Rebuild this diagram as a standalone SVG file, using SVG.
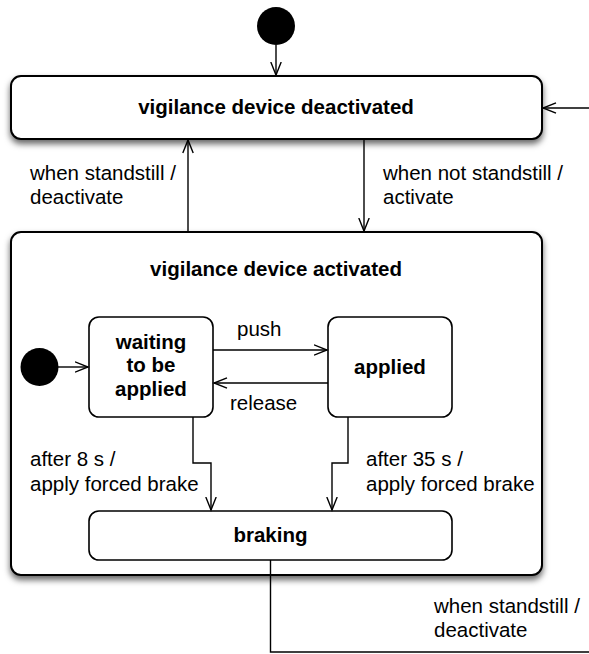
<svg xmlns="http://www.w3.org/2000/svg" width="589" height="654" viewBox="0 0 589 654">
<defs>
<filter id="sh" x="-10%" y="-10%" width="120%" height="130%">
<feDropShadow dx="0" dy="4" stdDeviation="3" flood-color="#000" flood-opacity="0.6"/>
</filter>
<marker id="arr" markerUnits="userSpaceOnUse" markerWidth="16" markerHeight="14" refX="13.5" refY="6" orient="auto">
<path d="M0.5,0.8 L13.5,6 L0.5,11.2" fill="none" stroke="#000" stroke-width="1.4"/>
</marker>
<style>
.outer{fill:#fff;stroke:#000;stroke-width:2;filter:url(#sh)}
.inner{fill:#fff;stroke:#000;stroke-width:1.6}
.t{font-family:"Liberation Sans",Arial,Helvetica,sans-serif;font-size:20.5px;fill:#000}
.b{font-weight:bold;text-anchor:middle}
.c{fill:none;stroke:#000;stroke-width:1.4}
</style>
</defs>
<g id="start1"><ellipse cx="276" cy="26" rx="19" ry="19" fill="#000"/></g>
<g id="deactivated">
<rect class="outer" x="11" y="76" width="531" height="63" rx="10"/>
<text class="t b" x="276" y="114">vigilance device deactivated</text>
</g>
<g id="activated">
<rect class="outer" x="11" y="232" width="531" height="343" rx="10"/>
<text class="t b" x="276" y="276">vigilance device activated</text>
</g>
<g id="start2"><ellipse cx="39.5" cy="367" rx="19" ry="19" fill="#000"/></g>
<g id="waiting">
<rect class="inner" x="89" y="317" width="124" height="100" rx="10"/>
<text class="t b" x="151" y="349">waiting</text>
<text class="t b" x="151" y="372">to be</text>
<text class="t b" x="151" y="396">applied</text>
</g>
<g id="applied">
<rect class="inner" x="328" y="317" width="124" height="100" rx="10"/>
<text class="t b" x="390" y="374">applied</text>
</g>
<g id="braking">
<rect class="inner" x="89" y="511" width="363" height="49" rx="10"/>
<text class="t b" x="270.5" y="542">braking</text>
</g>
<g id="connectors">
<path class="c" d="M276,45 V75" marker-end="url(#arr)"/>
<path class="c" d="M589,108 H543" marker-end="url(#arr)"/>
<path class="c" d="M188,232 V140" marker-end="url(#arr)"/>
<path class="c" d="M364,139 V231" marker-end="url(#arr)"/>
<path class="c" d="M58,367 H88" marker-end="url(#arr)"/>
<path class="c" d="M213,350 H327" marker-end="url(#arr)"/>
<path class="c" d="M328,383 H214" marker-end="url(#arr)"/>
<path class="c" d="M193,417 V463 H211 V510" marker-end="url(#arr)"/>
<path class="c" d="M348,417 V463 H332 V510" marker-end="url(#arr)"/>
<path class="c" d="M270.5,560 V652 H589"/>
<text class="t" x="30" y="180">when standstill /</text>
<text class="t" x="30" y="204">deactivate</text>
<text class="t" x="383" y="180">when not standstill /</text>
<text class="t" x="383" y="204">activate</text>
<text class="t" x="237" y="336">push</text>
<text class="t" x="230" y="410">release</text>
<text class="t" x="30" y="466">after 8 s /</text>
<text class="t" x="30" y="491">apply forced brake</text>
<text class="t" x="366" y="466">after 35 s /</text>
<text class="t" x="366" y="491">apply forced brake</text>
<text class="t" x="434" y="613">when standstill /</text>
<text class="t" x="434" y="637">deactivate</text>
</g>
</svg>
